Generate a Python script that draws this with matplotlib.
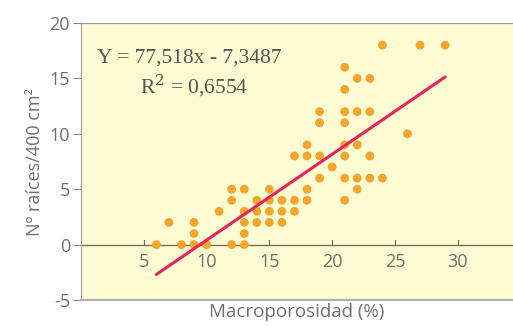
import matplotlib
matplotlib.use("Agg")
from matplotlib import pyplot as plt
import numpy as np

# data (macroporosity %, number of roots)
macro = [6, 7, 8, 9, 9, 9, 10, 11, 12, 12, 12, 13, 13, 13, 13, 13,
         14, 14, 14, 15, 15, 15, 15, 16, 16, 16, 17, 17, 17, 18, 18, 18, 18,
         19, 19, 19, 19, 20, 21, 21, 21, 21, 21, 21, 21, 21,
         22, 22, 22, 22, 22, 23, 23, 23, 23, 24, 24, 26, 27, 29]
raices = [0, 2, 0, 0, 1, 2, 0, 3, 0, 4, 5, 0, 1, 2, 3, 5,
          2, 3, 4, 2, 3, 4, 5, 2, 3, 4, 3, 4, 8, 4, 5, 8, 9,
          6, 8, 11, 12, 7, 4, 6, 8, 9, 11, 12, 14, 16,
          5, 6, 9, 12, 15, 6, 8, 12, 15, 6, 18, 10, 18, 18]

# regression as printed on the chart
slope = 77.518
intercept = -7.3487
fit_x = [6, 29]

xticks = [5, 10, 15, 20, 25, 30]
yticks = [-5, 0, 5, 10, 15, 20]

grey = '#707070'
tickfont = 'Open Sans'

fig = plt.figure(figsize=(5.13, 3.26), dpi=100)
ax = fig.add_axes([81/513, 26/326, 1 - 81/513, 277/326])
ax.set_facecolor('#fdfbd2')

ax.scatter(macro, raices, s=40, color='#f3a52e', edgecolors='none', zorder=3)
fx = np.array(fit_x)
ax.plot(fx, slope * fx / 100 + intercept, color='#e5245c', lw=2.2, zorder=4,
        solid_capstyle='round')

ax.set_xlim(0, 34.4)
ax.set_ylim(-5, 20)

# x axis sits on y = 0, frame line at the bottom
ax.axhline(0, color='#6a6a55', lw=0.9, zorder=2)
ax.spines['right'].set_visible(False)
ax.spines['top'].set_color('#9a9a9a')
ax.spines['left'].set_color('#9a9a9a')
ax.spines['bottom'].set_color('#b0b0b0')
ax.spines['bottom'].set_linewidth(1.6)

ax.set_xticks([])
for t in xticks:
    ax.plot([t, t], [-0.05, 0.45], color='#6a6a55', lw=0.8, zorder=2)
    ax.text(t, -0.8, str(t), ha='center', va='top', fontsize=13,
            color=grey, family=tickfont)

ax.set_yticks(yticks)
ax.set_yticklabels([str(v) for v in yticks], fontsize=13, color=grey,
                   family=tickfont)
ax.tick_params(axis='y', length=6, color='#8a8a8a', pad=2)

ax.set_xlabel('Macroporosidad (%)', fontsize=13.5, color=grey, family=tickfont,
              labelpad=2)
ax.set_ylabel('Nº raíces/400 cm²', fontsize=13, color=grey, family=tickfont,
              labelpad=4)

ax.text(1.3, 16.8, 'Y = 77,518x - 7,3487', fontsize=15.5, color='#555555',
        family='Liberation Serif', va='center')
ax.text(9.0, 14.3, 'R$^2$ = 0,6554', fontsize=15.5, color='#555555',
        family='Liberation Serif', va='center', ha='center',
        math_fontfamily='dejavuserif')

fig.savefig('out.png', dpi=100)
